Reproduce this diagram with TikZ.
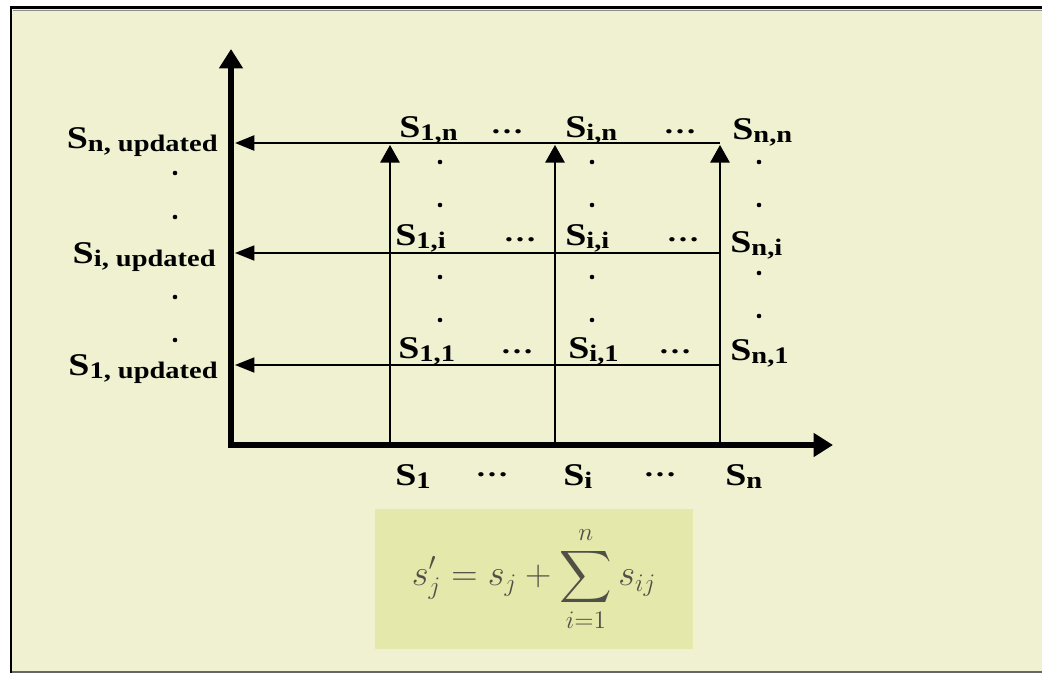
\documentclass[tikz,border=0pt]{standalone}
\usepackage{amsmath}
\usepackage{fontspec}
\setmainfont{Liberation Serif}
\usepackage{graphicx}
\usepackage{tikz}
\usetikzlibrary{positioning,arrows.meta}

\definecolor{slidebg}{RGB}{240,241,208}
\definecolor{eqbg}{RGB}{228,232,170}
\definecolor{eqtext}{RGB}{80,80,70}

% bold S with a lowered subscript, stretched like the slide
\newcommand{\Ssub}[1]{\scalebox{1.2}[1]{S\raisebox{-1.8pt}{\fontsize{13.5}{13.5}\selectfont #1}}}

\begin{document}
\begin{tikzpicture}[x=0.02cm,y=-0.02cm,
  lab/.style={font=\fontsize{18}{18}\selectfont\bfseries,inner sep=0pt},
  hdots/.style={font=\fontsize{15}{15}\selectfont\bfseries,inner sep=0pt},
  axis/.style={line width=3.4pt,{Triangle[length=11pt,width=13pt]}-{Triangle[length=11pt,width=13pt]}},
  harrow/.style={line width=1.1pt,-{Triangle[length=11pt,width=8.5pt]}},
  varrow/.style={line width=1.1pt,-{Triangle[length=10pt,width=11pt]}},
  eqbox/.style={fill=eqbg,minimum width=6.36cm,minimum height=2.8cm,text=eqtext,font=\fontsize{20}{20}\selectfont},
]
\useasboundingbox (0,0) rectangle (1042,673);

% Slide frame
\fill[white] (0,0) rectangle (1042,673);
\fill[slidebg] (11,8) rectangle (1042,673);
\draw[line width=1.2pt] (10,7.5) -- (1042,7.5);
\draw[black!45,line width=0.8pt] (13,10.5) -- (1042,10.5);
\draw[line width=1.6pt] (11,7) -- (11,673);
\draw[black!60,line width=1.2pt] (12,672) -- (1042,672);

% Axes
\coordinate (O) at (231,445);
\coordinate (ytip) at (231,49);
\coordinate (xtip) at (833,445);
\draw[axis] (ytip) -- (O) -- (xtip);

% Column arrows (up to the top row)
\coordinate (b1) at (390,445);
\coordinate (t1) at (390,145);
\coordinate (bi) at (555,445);
\coordinate (ti) at (555,145);
\coordinate (bn) at (720,445);
\coordinate (tn) at (720,145);
\draw[varrow] (b1) -- (t1);
\draw[varrow] (bi) -- (ti);
\draw[varrow] (bn) -- (tn);

% Row arrows (back to the vertical axis)
\coordinate (en) at (720,143);
\coordinate (an) at (235,143);
\coordinate (ei) at (720,253);
\coordinate (ai) at (235,253);
\coordinate (e1) at (720,365);
\coordinate (a1) at (235,365);
\draw[harrow,line width=1.5pt] (en) -- (an);
\draw[harrow] (ei) -- (ai);
\draw[harrow] (e1) -- (a1);

% Updated sums on the left
\node[lab,anchor=base east] (un) at (218,148) {\Ssub{n, updated}};
\node[lab,anchor=base east] (ui) at (216,263) {\Ssub{i, updated}};
\node[lab,anchor=base east] (u1) at (218,375) {\Ssub{1, updated}};
\fill (175,173) circle[radius=1.3pt] (175,217) circle[radius=1.3pt]
      (175,297) circle[radius=1.3pt] (175,340) circle[radius=1.3pt];

% Top row
\node[lab,anchor=base west] (s1n) at (399,137) {\Ssub{1,n}};
\node[hdots] (d1n) at (507,132) {\scalebox{1.25}[1]{\ldots}};
\node[lab,anchor=base west] (sin) at (565,137) {\Ssub{i,n}};
\node[hdots] (din) at (680,132) {\scalebox{1.25}[1]{\ldots}};
\node[lab,anchor=base west] (snn) at (732,139) {\Ssub{n,n}};

% Middle row
\node[lab,anchor=base west] (s1i) at (395,245) {\Ssub{1,i}};
\node[hdots] (d1i) at (520,240) {\scalebox{1.25}[1]{\ldots}};
\node[lab,anchor=base west] (sii) at (565,245) {\Ssub{i,i}};
\node[hdots] (dii) at (683,240) {\scalebox{1.25}[1]{\ldots}};
\node[lab,anchor=base west] (sni) at (730,252) {\Ssub{n,i}};

% Bottom row
\node[lab,anchor=base west] (s11) at (398,358) {\Ssub{1,1}};
\node[hdots] (d11) at (517,352) {\scalebox{1.25}[1]{\ldots}};
\node[lab,anchor=base west] (si1) at (568,358) {\Ssub{i,1}};
\node[hdots] (di1) at (675,352) {\scalebox{1.25}[1]{\ldots}};
\node[lab,anchor=base west] (sn1) at (730,360) {\Ssub{n,1}};

% Vertical dots between rows
\fill (440,162) circle[radius=1.3pt] (440,205) circle[radius=1.3pt]
      (440,277) circle[radius=1.3pt] (440,320) circle[radius=1.3pt];
\fill (592,162) circle[radius=1.3pt] (592,205) circle[radius=1.3pt]
      (592,277) circle[radius=1.3pt] (592,320) circle[radius=1.3pt];
\fill (759,162) circle[radius=1.3pt] (759,205) circle[radius=1.3pt]
      (759,273) circle[radius=1.3pt] (759,316) circle[radius=1.3pt];

% Labels under the x axis
\node[lab,anchor=base west] (x1) at (395,485) {\Ssub{1}};
\node[hdots] (dx1) at (492,475) {\scalebox{1.25}[1]{\ldots}};
\node[lab,anchor=base west] (xi) at (563,485) {\Ssub{i}};
\node[hdots] (dxi) at (660,475) {\scalebox{1.25}[1]{\ldots}};
\node[lab,anchor=base west] (xn) at (725,485) {\Ssub{n}};

% Update rule
\node[eqbox] (eq) at (534,579) {$\displaystyle s'_j = s_j + \sum_{i=1}^{n} s_{ij}$};
\end{tikzpicture}
\end{document}
